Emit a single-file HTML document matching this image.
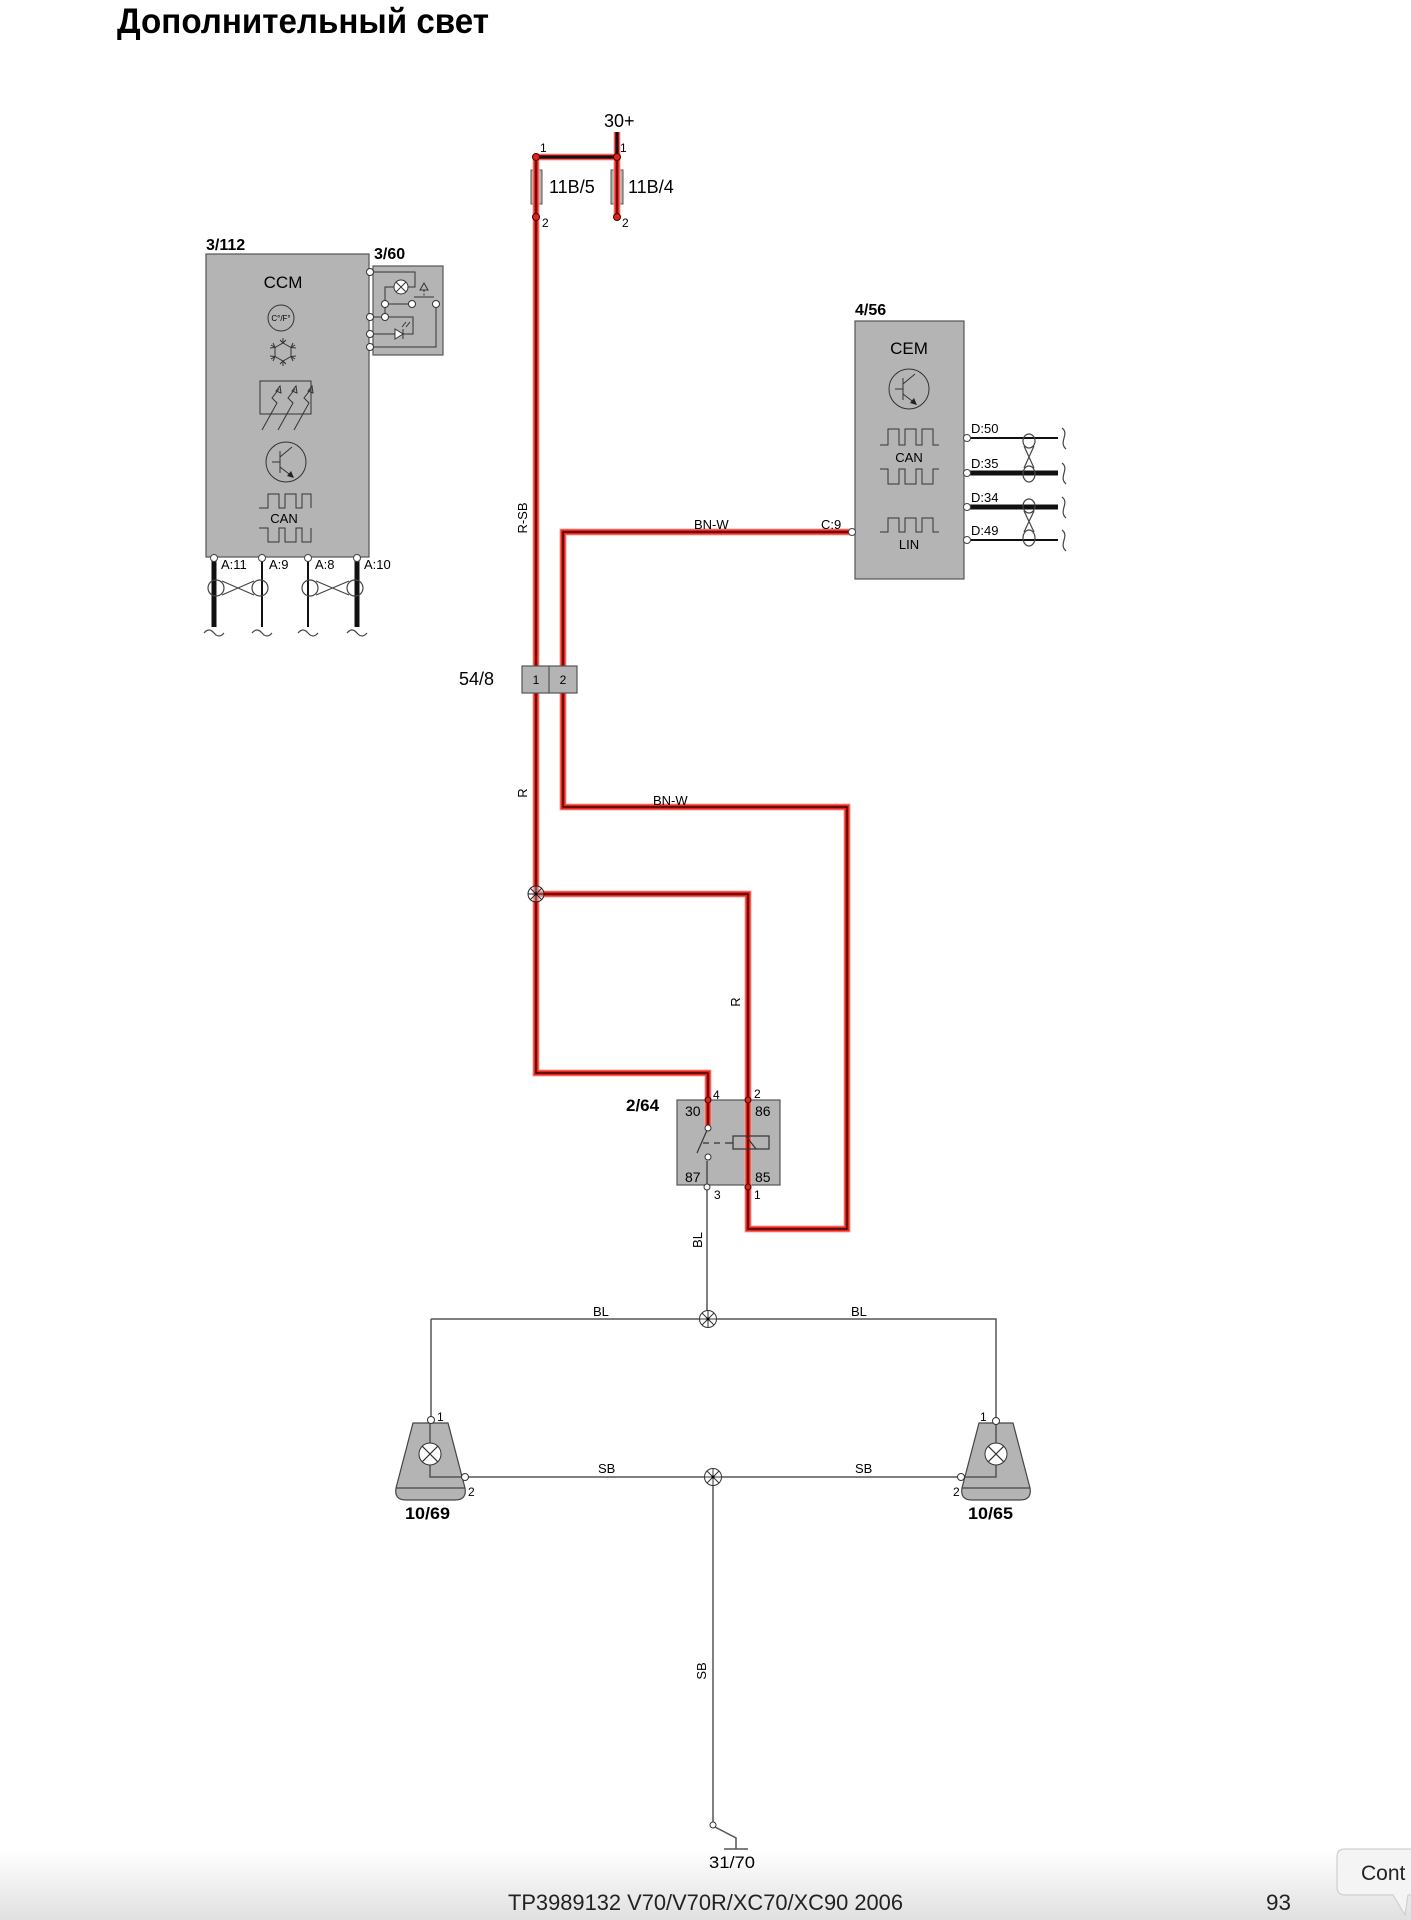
<!DOCTYPE html>
<html><head><meta charset="utf-8"><style>html,body{margin:0;padding:0;background:#fff}svg{display:block}</style></head>
<body>
<svg width="1411" height="1920" viewBox="0 0 1411 1920" xmlns="http://www.w3.org/2000/svg" font-family="'Liberation Sans', Arial, sans-serif">
<defs>
<linearGradient id="g" x1="0" y1="0" x2="0" y2="1"><stop offset="0" stop-color="#ffffff"/><stop offset="1" stop-color="#e0e0e0"/></linearGradient>
</defs>
<rect width="1411" height="1920" fill="#fff"/>
<rect x="0" y="1850" width="1411" height="70" fill="url(#g)"/>

<text x="117" y="33" font-size="35" font-weight="bold" textLength="372" lengthAdjust="spacingAndGlyphs">Дополнительный свет</text>

<!-- CCM -->
<rect x="206" y="254" width="163" height="303" fill="#b4b4b4" stroke="#555" stroke-width="1.2"/>
<text x="206" y="250" font-size="16" font-weight="bold">3/112</text>
<text x="283" y="288" font-size="17" text-anchor="middle">CCM</text>
<circle cx="281" cy="318" r="13" fill="none" stroke="#333" stroke-width="1"/>
<text x="281" y="321" font-size="8" text-anchor="middle">C°/F°</text>
<g stroke="#333" stroke-width="1" fill="none">
<polygon points="283,343 291,347.5 291,356.5 283,361 275,356.5 275,347.5"/>
<path d="M283,343 V338 M291,347.5 L295,345 M291,356.5 L295,359 M283,361 V366 M275,356.5 L271,359 M275,347.5 L271,345"/>
<path d="M280,340 L283,343 L286,340 M280,364 L283,361 L286,364 M293,343 L291,347.5 L296,348 M293,361 L291,356.5 L296,356 M273,343 L275,347.5 L270,348 M273,361 L275,356.5 L270,356"/>
<rect x="260" y="381" width="51" height="33"/>
<path d="M262,430 L277,403 L272,398 L279,389 M278,430 L293,403 L288,398 L295,389 M294,430 L309,403 L304,398 L311,389"/>
<path d="M276,391 L280,386 L281,393 Z M292,391 L296,386 L297,393 Z M308,391 L312,386 L313,393 Z"/>
<circle cx="286" cy="462" r="20"/>
<path d="M280,451 V473 M272,462 H280 M280,457 L292,447 M280,467 L293,477"/>
<path d="M259,508 H268 V494 H279 V508 H285 V494 H296 V508 H302 V494 H311 V508"/>
<path d="M259,528 H268 V542 H279 V528 H285 V542 H296 V528 H302 V542 H311 V528"/>
</g>
<polygon points="294,478 287,476 291,471" fill="#222"/>
<text x="284" y="523" font-size="13" text-anchor="middle">CAN</text>
<!-- CCM bottom wires -->
<g stroke="#111">
<line x1="214" y1="560" x2="214" y2="627" stroke-width="5"/>
<line x1="262" y1="560" x2="262" y2="627" stroke-width="2"/>
<line x1="308" y1="560" x2="308" y2="627" stroke-width="2"/>
<line x1="357" y1="560" x2="357" y2="627" stroke-width="5"/>
</g>
<g stroke="#444" stroke-width="1.2" fill="none">
<ellipse cx="216" cy="588" rx="8" ry="8"/><ellipse cx="260" cy="588" rx="8" ry="8"/>
<path d="M222,581 L254,595 M222,595 L254,581"/>
<ellipse cx="310" cy="588" rx="8" ry="8"/><ellipse cx="355" cy="588" rx="8" ry="8"/>
<path d="M316,581 L349,595 M316,595 L349,581"/>
<path d="M204,633 q5,-6 10,0 t10,0 M252,633 q5,-6 10,0 t10,0 M298,633 q5,-6 10,0 t10,0 M347,633 q5,-6 10,0 t10,0"/>
</g>
<g fill="#fff" stroke="#444" stroke-width="1">
<circle cx="214" cy="558" r="3.5"/><circle cx="262" cy="558" r="3.5"/><circle cx="308" cy="558" r="3.5"/><circle cx="357" cy="558" r="3.5"/>
</g>
<g font-size="13">
<text x="221" y="569">A:11</text><text x="269" y="569">A:9</text><text x="315" y="569">A:8</text><text x="364" y="569">A:10</text>
</g>

<!-- 3/60 -->
<rect x="373" y="266" width="70" height="89" fill="#b4b4b4" stroke="#555" stroke-width="1.2"/>
<text x="374" y="259" font-size="16" font-weight="bold">3/60</text>
<g stroke="#333" stroke-width="1" fill="none">
<path d="M373,272 H415 V287 H408 M394,287 H385 V317 M385,304 H409 M414,297 H434 M436,308 V347 H373 M373,317 H382 M389,317 H413 V334 H373"/>
<path d="M424,290 V297" stroke-dasharray="2,1.5"/>
<path d="M420,290 L424,283 L428,290 Z"/>
<path d="M403,329 V339 M402,327 L406,322 M406,327 L410,322"/>
</g>
<circle cx="401" cy="287" r="7" fill="#fff" stroke="#333"/>
<path d="M396,282 L406,292 M406,282 L396,292" stroke="#333"/>
<polygon points="395,329 395,339 403,334" fill="#fff" stroke="#333"/>
<g fill="#fff" stroke="#333" stroke-width="1">
<circle cx="385" cy="304" r="3.5"/><circle cx="412" cy="304" r="3.5"/><circle cx="436" cy="304" r="3.5"/><circle cx="385" cy="317" r="3.5"/>
<circle cx="370" cy="272" r="3.5"/><circle cx="370" cy="317" r="3.5"/><circle cx="370" cy="334" r="3.5"/><circle cx="370" cy="347" r="3.5"/>
</g>

<!-- CEM -->
<rect x="855" y="321" width="109" height="258" fill="#b4b4b4" stroke="#555" stroke-width="1.2"/>
<text x="855" y="315" font-size="16" font-weight="bold">4/56</text>
<text x="909" y="354" font-size="17" text-anchor="middle">CEM</text>
<g stroke="#333" stroke-width="1" fill="none">
<circle cx="909" cy="389" r="20"/>
<path d="M903,378 V400 M895,389 H903 M903,384 L915,374 M903,394 L916,404"/>
<path d="M880,445 H888 V429 H899 V445 H905 V429 H916 V445 H922 V429 H933 V445 H939"/>
<path d="M880,469 H888 V484 H899 V469 H905 V484 H916 V469 H922 V484 H933 V469 H939"/>
<path d="M880,532 H888 V518 H899 V532 H905 V518 H916 V532 H922 V518 H933 V532 H939"/>
</g>
<polygon points="917,405 910,403 914,398" fill="#222"/>
<text x="909" y="462" font-size="13" text-anchor="middle">CAN</text>
<text x="909" y="549" font-size="13" text-anchor="middle">LIN</text>
<g stroke="#111">
<line x1="969" y1="438" x2="1058" y2="438" stroke-width="2"/>
<line x1="969" y1="473" x2="1058" y2="473" stroke-width="5"/>
<line x1="969" y1="507" x2="1058" y2="507" stroke-width="5"/>
<line x1="969" y1="540" x2="1058" y2="540" stroke-width="2"/>
</g>
<g stroke="#444" stroke-width="1.2" fill="none">
<ellipse cx="1029" cy="441" rx="6" ry="7"/><ellipse cx="1029" cy="474" rx="6" ry="8"/>
<path d="M1024,446 L1034,468 M1034,446 L1024,468"/>
<ellipse cx="1029" cy="506" rx="6" ry="7"/><ellipse cx="1029" cy="538" rx="6" ry="8"/>
<path d="M1024,511 L1034,532 M1034,511 L1024,532"/>
<path d="M1062,428 C1070,434 1058,442 1066,449 M1062,463 C1070,469 1058,477 1066,484 M1062,497 C1070,503 1058,511 1066,518 M1062,530 C1070,536 1058,544 1066,551"/>
</g>
<g fill="#fff" stroke="#444" stroke-width="1">
<circle cx="967" cy="438" r="3.5"/><circle cx="967" cy="473" r="3.5"/><circle cx="967" cy="507" r="3.5"/><circle cx="967" cy="540" r="3.5"/>
</g>
<g font-size="13">
<text x="971" y="433">D:50</text><text x="971" y="468">D:35</text><text x="971" y="502">D:34</text><text x="971" y="535">D:49</text>
</g>

<!-- Fuses -->
<rect x="531" y="170" width="11" height="34" fill="#b4b4b4" stroke="#555"/>
<rect x="611" y="170" width="12" height="34" fill="#b4b4b4" stroke="#555"/>

<!-- Relay box -->
<rect x="677" y="1100" width="103" height="85" fill="#b4b4b4" stroke="#555" stroke-width="1.2"/>

<!-- Lamps -->
<g fill="#b4b4b4" stroke="#444" stroke-width="1.2">
<path d="M413,1423 H448 L465,1488 Q467,1500 455,1500 H406 Q394,1500 396,1488 Z"/>
<path d="M979,1423 H1013 L1030,1488 Q1032,1500 1020,1500 H972 Q960,1500 962,1488 Z"/>
</g>
<path d="M396,1488 H465 M962,1488 H1030" stroke="#444" stroke-width="1.2"/>

<!-- Red wires -->
<g fill="none" stroke-linejoin="miter">
<g stroke="#f6a7a1" stroke-width="7">
<path d="M617,132 V217"/><path d="M536,157 H617"/><path d="M536,157 V666"/>
<path d="M536,693 V1073 H708 V1128"/>
<path d="M536,894 H748 V1229 H847 V807 H563 V693"/>
<path d="M563,666 V532 H852"/>
</g>
<g stroke="#e8231a" stroke-width="5">
<path d="M617,132 V217"/><path d="M536,157 H617"/><path d="M536,157 V666"/>
<path d="M536,693 V1073 H708 V1128"/>
<path d="M536,894 H748 V1229 H847 V807 H563 V693"/>
<path d="M563,666 V532 H852"/>
</g>
<g stroke="#1a0000" stroke-width="1.2">
<path d="M617,132 V217"/><path d="M536,157 V666"/>
<path d="M536,693 V1073 H708 V1128"/>
<path d="M536,894 H748 V1229 H847 V807 H563 V693"/>
<path d="M563,666 V532 H852"/>
</g>
<path d="M536,157 H617 M617,132 V157" stroke="#111" stroke-width="3"/>
</g>

<!-- fuse labels / pins -->
<text x="604" y="127" font-size="18">30+</text>
<text x="549" y="193" font-size="18">11B/5</text>
<text x="628" y="193" font-size="18">11B/4</text>
<g font-size="12">
<text x="540" y="152">1</text><text x="620" y="152">1</text>
<text x="542" y="227">2</text><text x="622" y="227">2</text>
</g>
<g fill="#e2231a" stroke="#400" stroke-width="1">
<circle cx="536" cy="157" r="3.5"/><circle cx="617" cy="157" r="3.5"/><circle cx="536" cy="217" r="3.5"/><circle cx="617" cy="217" r="3.5"/>
</g>

<!-- wire labels -->
<g font-size="13">
<text transform="translate(527,518) rotate(-90)" text-anchor="middle">R-SB</text>
<text x="694" y="529">BN-W</text>
<text x="821" y="529">C:9</text>
<text x="653" y="805">BN-W</text>
<text transform="translate(527,793) rotate(-90)" text-anchor="middle">R</text>
<text transform="translate(740,1002) rotate(-90)" text-anchor="middle">R</text>
<text transform="translate(702,1240) rotate(-90)" text-anchor="middle">BL</text>
<text transform="translate(706,1671) rotate(-90)" text-anchor="middle">SB</text>
<text x="593" y="1316">BL</text>
<text x="851" y="1316">BL</text>
<text x="598" y="1473">SB</text>
<text x="855" y="1473">SB</text>
</g>
<circle cx="852" cy="532" r="3.5" fill="#fff" stroke="#444"/>

<!-- connector 54/8 -->
<rect x="522" y="666" width="55" height="27" fill="#b4b4b4" stroke="#555" stroke-width="1.2"/>
<line x1="549" y1="666" x2="549" y2="693" stroke="#555" stroke-width="1.2"/>
<text x="536" y="684" font-size="12" text-anchor="middle">1</text>
<text x="563" y="684" font-size="12" text-anchor="middle">2</text>
<text x="459" y="685" font-size="18">54/8</text>

<!-- splice red -->
<g stroke="#222" stroke-width="1" fill="none">
<circle cx="536" cy="894" r="8" fill="#fff" fill-opacity="0.4"/>
<path d="M530.3,888.3 L541.7,899.7 M541.7,888.3 L530.3,899.7 M536,886 V902 M528,894 H544"/>
</g>
<circle cx="536" cy="894" r="1.5" fill="#000"/>

<!-- relay internals -->
<g stroke="#333" stroke-width="1.2" fill="none">
<path d="M708,1128 L697,1153"/>
<path d="M703,1143 H709 M714,1143 H720 M725,1143 H733" />
<rect x="733" y="1136" width="36" height="13"/>
<path d="M746,1136 L756,1149"/>
<path d="M707,1161 V1187"/>
</g>
<circle cx="708" cy="1128" r="3" fill="#fff" stroke="#333"/>
<circle cx="708" cy="1157" r="3" fill="#fff" stroke="#333"/>
<g font-size="14">
<text x="685" y="1116">30</text><text x="755" y="1116">86</text>
<text x="685" y="1182">87</text><text x="755" y="1182">85</text>
</g>
<g font-size="12">
<text x="713" y="1099">4</text><text x="754" y="1098">2</text>
<text x="714" y="1199">3</text><text x="754" y="1199">1</text>
</g>
<g fill="#e2231a" stroke="#400" stroke-width="1">
<circle cx="708" cy="1100" r="3"/><circle cx="748" cy="1100" r="3"/><circle cx="748" cy="1187" r="3"/>
</g>
<circle cx="707" cy="1187" r="3" fill="#fff" stroke="#333"/>
<text x="626" y="1111" font-size="17" font-weight="bold">2/64</text>

<!-- BL / SB wiring -->
<g stroke="#555" stroke-width="1.5" fill="none">
<path d="M707,1190 V1319"/>
<path d="M431,1319 H996 V1418"/>
<path d="M431,1319 V1417"/>
<path d="M468,1477 H958"/>
<path d="M713,1477 V1822"/>
<path d="M430,1424 V1443 M430,1465 V1477 H462"/>
<path d="M996,1424 V1443 M996,1465 V1477 H964"/>
<path d="M715,1827 L736,1838 V1849 M724,1849 H748"/>
</g>
<g stroke="#333" stroke-width="1" fill="#fff">
<circle cx="430" cy="1454" r="11"/><circle cx="996" cy="1454" r="11"/>
</g>
<path d="M422.2,1446.2 L437.8,1461.8 M437.8,1446.2 L422.2,1461.8 M988.2,1446.2 L1003.8,1461.8 M1003.8,1446.2 L988.2,1461.8" stroke="#333" stroke-width="1.2"/>
<g fill="#fff" stroke="#333" stroke-width="1">
<circle cx="431" cy="1420" r="3.5"/><circle cx="465" cy="1477" r="3.5"/>
<circle cx="996" cy="1421" r="3.5"/><circle cx="961" cy="1477" r="3.5"/>
<circle cx="713" cy="1825" r="3"/>
</g>
<!-- splices -->
<g stroke="#333" stroke-width="1" fill="#fff">
<circle cx="708" cy="1319" r="8.5"/><circle cx="713" cy="1477" r="8.5"/>
</g>
<g stroke="#333" stroke-width="1">
<path d="M702,1313 L714,1325 M714,1313 L702,1325 M708,1310.5 V1327.5 M699.5,1319 H716.5"/>
<path d="M707,1471 L719,1483 M719,1471 L707,1483 M713,1468.5 V1485.5 M704.5,1477 H721.5"/>
</g>
<circle cx="708" cy="1319" r="1.5" fill="#000"/><circle cx="713" cy="1477" r="1.5" fill="#000"/>

<g font-size="12">
<text x="437" y="1421">1</text><text x="468" y="1496">2</text>
<text x="980" y="1421">1</text><text x="953" y="1496">2</text>
</g>
<text x="405" y="1519" font-size="17" font-weight="bold" textLength="45" lengthAdjust="spacingAndGlyphs">10/69</text>
<text x="968" y="1519" font-size="17" font-weight="bold" textLength="45" lengthAdjust="spacingAndGlyphs">10/65</text>
<text x="709" y="1868" font-size="17" textLength="46" lengthAdjust="spacingAndGlyphs">31/70</text>

<!-- footer -->
<text x="508" y="1910" font-size="22" fill="#222" textLength="395" lengthAdjust="spacingAndGlyphs">TP3989132 V70/V70R/XC70/XC90 2006</text>
<text x="1266" y="1910" font-size="22" fill="#222" textLength="25" lengthAdjust="spacingAndGlyphs">93</text>
<path d="M1345,1849 H1420 V1895 H1408 L1405,1915 L1393,1895 H1345 Q1337,1895 1337,1887 V1857 Q1337,1849 1345,1849 Z" fill="#f4f4f4" stroke="#cfcfcf" stroke-width="1.2"/>
<text x="1361" y="1880" font-size="21" fill="#222">Cont</text>
</svg>
</body></html>
